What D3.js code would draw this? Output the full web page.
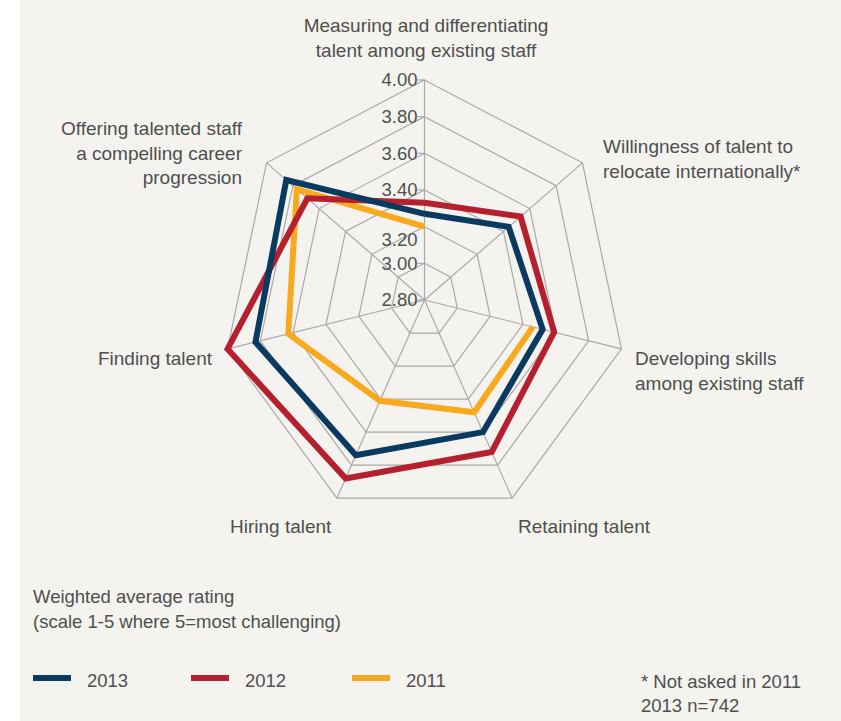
<!DOCTYPE html>
<html>
<head>
<meta charset="utf-8">
<script src="https://cdn.jsdelivr.net/npm/d3@7"></script>
<style>
  body { margin: 0; background: #fff; }
  text { font-family: "Liberation Sans", Arial, sans-serif; fill: #4f4f4f; }
</style>
</head>
<body>
<div id="chart"></div>
<script>
var axisLabels = [
  ["Measuring and differentiating", "talent among existing staff"],
  ["Willingness of talent to", "relocate internationally*"],
  ["Developing skills", "among existing staff"],
  ["Retaining talent"],
  ["Hiring talent"],
  ["Finding talent"],
  ["Offering talented staff", "a compelling career", "progression"]
];
var years = ["2013", "2012", "2011"];
var values2013 = [3.27, 3.44, 3.52, 3.60, 3.74, 3.83, 3.85];
var values2012 = [3.33, 3.53, 3.59, 3.72, 3.88, 4.00, 3.69];
var values2011 = [3.20, null, 3.46, 3.48, 3.41, 3.63, 3.77];
var ticks = [2.80, 3.00, 3.20, 3.40, 3.60, 3.80, 4.00];
var colors = ["#0b3a60", "#b51f2e", "#f8a91d"];

var width = 841, height = 721;
var cx = 424.5, cy = 300, R = 220, sx = 202 / 220;
var n = axisLabels.length;

var svg = d3.select("#chart").append("svg")
    .attr("width", width)
    .attr("height", height);

svg.append("rect")
    .attr("x", 20).attr("y", 0)
    .attr("width", width - 20).attr("height", height)
    .attr("fill", "#f4f3ef");

var r = d3.scaleLinear().domain([2.80, 4.00]).range([0, R]);

function angle(i) { return i * 2 * Math.PI / n; }
function px(i, v) { return cx + r(v) * Math.sin(angle(i)) * sx; }
function py(i, v) { return cy - r(v) * Math.cos(angle(i)); }

var grid = svg.append("g");

// rings
ticks.slice(1).forEach(function(t) {
  var pts = d3.range(n).map(function(i) { return [px(i, t), py(i, t)]; });
  grid.append("polygon")
      .attr("points", pts.map(function(p) { return p.join(","); }).join(" "))
      .attr("fill", "none")
      .attr("stroke", "#a9a9a9")
      .attr("stroke-width", 1.2);
});

// spokes
d3.range(n).forEach(function(i) {
  grid.append("line")
      .attr("x1", cx).attr("y1", cy)
      .attr("x2", px(i, 4.00)).attr("y2", py(i, 4.00))
      .attr("stroke", "#a9a9a9")
      .attr("stroke-width", 1.2);
});

// tick labels on the top axis
var fmt = d3.format(".2f");
ticks.forEach(function(t) {
  var y = py(0, t);
  grid.append("line")
      .attr("x1", cx - 7).attr("x2", cx)
      .attr("y1", y).attr("y2", y)
      .attr("stroke", "#a9a9a9")
      .attr("stroke-width", 1.2);
  svg.append("text")
      .attr("x", cx - 7)
      .attr("y", y + (t === 3.20 ? 13 : 0))
      .attr("dy", "0.35em")
      .attr("text-anchor", "end")
      .style("font-size", "18.5px")
      .text(fmt(t));
});

// series lines
var line = d3.line()
    .defined(function(d) { return d.v !== null; })
    .x(function(d) { return px(d.i, d.v); })
    .y(function(d) { return py(d.i, d.v); });

var series = [values2011, values2012, values2013];
var seriesColors = [colors[2], colors[1], colors[0]];
series.forEach(function(vals, k) {
  var pts = d3.range(n + 1).map(function(j) { return { i: j % n, v: vals[j % n] }; });
  svg.append("path")
      .attr("d", line(pts))
      .attr("fill", "none")
      .attr("stroke", seriesColors[k])
      .attr("stroke-width", 6)
      .attr("stroke-linejoin", "miter");
});

// axis labels
var labelPos = [
  { x: 426, y: 32, anchor: "middle" },
  { x: 603, y: 153, anchor: "start" },
  { x: 635, y: 365, anchor: "start" },
  { x: 518, y: 533, anchor: "start" },
  { x: 230, y: 533, anchor: "start" },
  { x: 212, y: 365, anchor: "end" },
  { x: 242, y: 135, anchor: "end" }
];
axisLabels.forEach(function(lines, i) {
  var t = svg.append("text")
      .attr("x", labelPos[i].x)
      .attr("y", labelPos[i].y)
      .attr("text-anchor", labelPos[i].anchor)
      .style("font-size", "19px");
  lines.forEach(function(s, j) {
    t.append("tspan")
        .attr("x", labelPos[i].x)
        .attr("dy", j === 0 ? 0 : 24.5)
        .text(s);
  });
});

// note under chart
svg.append("text")
    .attr("x", 33).attr("y", 603)
    .style("font-size", "18.5px")
    .text("Weighted average rating");
svg.append("text")
    .attr("x", 33).attr("y", 628)
    .style("font-size", "18.5px")
    .text("(scale 1-5 where 5=most challenging)");

// legend
var legendX = [33, 191, 352];
years.forEach(function(yr, i) {
  svg.append("rect")
      .attr("x", legendX[i]).attr("y", 675)
      .attr("width", 38).attr("height", 6)
      .attr("fill", colors[i]);
  svg.append("text")
      .attr("x", legendX[i] + 54).attr("y", 687)
      .style("font-size", "18.5px")
      .text(yr);
});

svg.append("text")
    .attr("x", 641).attr("y", 688)
    .style("font-size", "18.5px")
    .text("* Not asked in 2011");
svg.append("text")
    .attr("x", 641).attr("y", 712)
    .style("font-size", "18.5px")
    .text("2013 n=742");
</script>
</body>
</html>
